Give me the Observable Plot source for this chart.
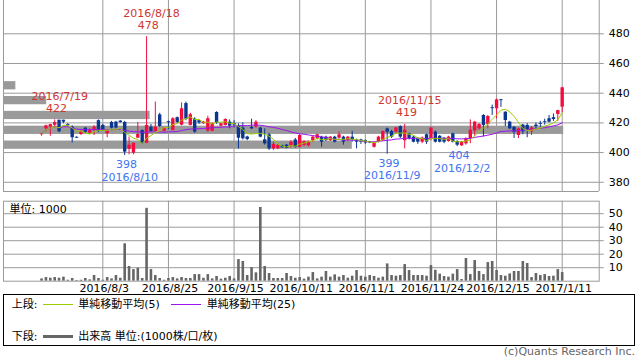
<!DOCTYPE html>
<html><head><meta charset="utf-8">
<script src="https://cdn.jsdelivr.net/npm/d3@7"></script>
<script src="https://cdn.jsdelivr.net/npm/@observablehq/plot@0.6"></script>
<style>
body{margin:0;background:#fff;}
#chart{position:relative;width:638px;height:362px;overflow:hidden;font-family:"DejaVu Sans","Noto Sans CJK JP",sans-serif;background:#fff;}
#chart svg{position:absolute;left:0;}
#legend{position:absolute;left:3px;top:294px;width:632px;height:52px;border:1px solid #000;box-sizing:border-box;font-size:11px;line-height:13px;color:#000;background:#fff;}
#legend span{position:absolute;white-space:nowrap;}
#legend i{position:absolute;display:block;}
#copy{position:absolute;right:3px;top:345.7px;font-size:11px;line-height:11px;color:#666;white-space:nowrap;}
</style></head><body><div id="chart"></div><script>
const dates = ["2016/7/13","2016/7/14","2016/7/15","2016/7/19","2016/7/20","2016/7/21","2016/7/22","2016/7/25","2016/7/26","2016/7/27","2016/7/28","2016/7/29",
"2016/8/1","2016/8/2","2016/8/3","2016/8/4","2016/8/5","2016/8/8","2016/8/9","2016/8/10","2016/8/12","2016/8/15","2016/8/16","2016/8/17","2016/8/18","2016/8/19","2016/8/22","2016/8/23","2016/8/24","2016/8/25","2016/8/26","2016/8/29","2016/8/30","2016/8/31",
"2016/9/1","2016/9/2","2016/9/5","2016/9/6","2016/9/7","2016/9/8","2016/9/9","2016/9/12","2016/9/13","2016/9/14","2016/9/15","2016/9/16","2016/9/20","2016/9/21","2016/9/23","2016/9/26","2016/9/27","2016/9/28","2016/9/29","2016/9/30",
"2016/10/3","2016/10/4","2016/10/5","2016/10/6","2016/10/7","2016/10/11","2016/10/12","2016/10/13","2016/10/14","2016/10/17","2016/10/18","2016/10/19","2016/10/20","2016/10/21","2016/10/24","2016/10/25","2016/10/26","2016/10/27","2016/10/28","2016/10/31",
"2016/11/1","2016/11/2","2016/11/4","2016/11/7","2016/11/8","2016/11/9","2016/11/10","2016/11/11","2016/11/14","2016/11/15","2016/11/16","2016/11/17","2016/11/18","2016/11/21","2016/11/22","2016/11/24","2016/11/25","2016/11/28","2016/11/29","2016/11/30",
"2016/12/1","2016/12/2","2016/12/5","2016/12/6","2016/12/7","2016/12/8","2016/12/9","2016/12/12","2016/12/13","2016/12/14","2016/12/15","2016/12/16","2016/12/19","2016/12/20","2016/12/21","2016/12/22","2016/12/26","2016/12/27","2016/12/28","2016/12/29","2016/12/30",
"2017/1/4","2017/1/5","2017/1/6","2017/1/10","2017/1/11"];

const open = [412.0,416.0,417.2,418.4,421.8,421.8,418.8,417.1,410.3,412.2,416.4,413.1,415.0,421.5,418.3,412.7,420.3,420.5,421.2,420.3,
402.2,399.6,409.7,414.9,406.3,417.1,414.2,425.4,414.4,420.8,415.0,423.5,418.5,433.0,418.3,422.5,421.5,419.5,414.5,414.4,
427.0,417.8,418.3,420.5,419.5,418.0,416.5,410.5,417.0,417.1,416.5,408.6,412.0,402.5,402.5,404.6,405.0,404.3,408.5,403.6,
404.8,404.5,408.1,409.3,410.4,410.4,408.1,410.4,409.7,410.4,408.1,410.4,408.1,408.5,408.1,407.2,403.6,407.0,408.1,416.0,
414.2,413.7,417.5,408.0,412.6,410.4,409.3,407.0,412.0,409.3,413.8,411.0,409.7,407.5,412.6,407.5,404.5,405.9,409.3,414.5,
416.0,425.0,419.0,430.2,429.5,435.6,427.2,420.5,417.0,411.5,418.5,418.3,414.0,418.5,419.5,420.8,422.8,423.5,425.7,430.6];
const high = [413.0,418.5,419.0,422.0,421.8,421.8,419.5,418.0,410.6,415.0,417.0,416.0,418.2,422.0,419.0,415.0,421.0,421.0,421.5,421.0,
410.5,406.5,420.3,415.2,478.0,419.0,434.0,426.5,416.8,421.2,423.5,424.0,433.5,434.0,426.5,423.5,422.0,421.0,424.5,420.0,
427.5,419.6,422.8,422.0,421.5,419.4,420.0,411.0,422.5,421.5,417.0,416.0,413.0,407.0,405.5,405.0,405.5,408.0,409.5,412.0,
408.0,407.8,411.0,412.5,411.0,411.0,410.8,411.0,414.0,411.0,410.8,414.3,409.0,409.0,408.5,407.5,407.0,411.0,414.5,416.5,
415.0,417.0,418.0,419.0,413.0,411.0,410.0,410.5,412.5,417.0,414.5,411.5,410.0,411.0,413.0,408.0,407.5,410.0,422.0,421.0,
419.5,425.5,425.0,432.0,436.0,435.8,427.5,421.0,417.5,416.5,419.0,419.5,417.5,420.0,421.0,422.5,425.0,426.0,428.5,444.0];
const low = [411.0,414.0,411.0,417.0,413.5,419.5,417.5,406.5,409.6,411.5,413.0,412.2,411.5,413.5,414.5,410.0,416.0,416.0,420.0,398.0,
398.5,398.5,409.5,405.5,406.0,413.5,413.8,417.0,414.0,415.5,414.5,419.5,418.0,421.5,418.0,413.0,419.0,419.0,413.7,414.0,
419.0,417.5,418.0,416.0,416.5,402.5,408.5,408.0,415.5,416.5,410.0,405.0,401.5,401.5,402.0,403.0,402.5,403.0,403.0,403.0,
404.0,403.8,407.0,408.5,403.6,407.5,407.5,406.5,409.0,405.0,407.5,407.0,402.5,405.5,405.5,406.0,403.0,406.5,407.5,399.0,
409.5,413.0,409.4,402.5,408.5,406.5,405.5,406.0,405.5,408.0,406.5,406.5,406.0,407.0,406.5,404.0,404.2,405.0,406.0,411.0,
415.0,410.5,416.0,425.0,422.8,430.5,417.5,415.5,409.5,409.5,412.0,410.0,411.5,416.0,417.0,418.5,420.0,421.0,421.0,427.0];
const close = [412.6,418.0,418.8,420.2,414.0,420.5,418.2,410.0,409.7,414.2,413.7,415.0,417.1,414.2,415.0,414.2,416.4,416.6,420.2,400.3,
405.0,406.3,412.2,406.3,418.3,414.2,417.1,417.6,416.4,420.1,422.8,420.3,429.5,422.3,425.5,413.8,420.0,420.5,422.8,419.6,
419.8,419.4,422.3,417.8,418.5,409.7,409.3,408.8,416.0,420.5,410.4,405.9,402.5,405.5,404.8,403.2,402.8,407.0,403.6,411.5,
407.3,407.0,410.4,412.0,407.0,408.1,410.4,407.0,412.0,407.0,410.4,408.3,407.0,407.0,406.5,406.5,406.4,410.4,414.2,413.7,
410.4,416.6,410.4,415.0,409.3,407.0,407.0,409.7,407.0,416.5,407.0,407.0,407.0,410.4,407.0,405.0,407.0,409.3,415.0,420.5,
418.9,418.3,424.3,429.6,435.5,435.0,421.6,416.0,413.7,416.0,414.0,415.0,416.6,417.5,419.0,420.3,420.5,422.3,428.3,443.6];
const volume = [1.7,2.7,2.2,2.7,2.2,3.0,0.7,2.0,0.5,0.7,2.0,1.0,4.2,2.0,0.7,2.7,1.7,4.2,2.2,27.7,
10.9,8.6,9.6,2.0,54.0,8.6,4.2,2.0,0.7,2.0,2.7,1.7,2.7,2.0,2.0,4.9,4.9,2.2,4.9,1.7,
3.5,1.5,2.2,3.5,1.7,16.0,14.6,4.2,10.1,6.2,54.6,10.9,5.7,2.0,2.0,2.0,5.7,3.5,2.2,2.7,
1.5,3.0,6.4,1.7,3.0,7.2,3.0,4.7,3.0,4.2,2.2,3.7,7.9,3.7,3.0,4.2,3.5,2.2,3.0,12.8,
4.2,3.7,4.2,12.3,7.9,4.2,4.2,4.2,3.7,11.6,8.1,5.2,3.5,3.0,5.2,8.6,1.2,16.8,4.9,15.3,
7.2,4.9,13.8,14.6,7.9,4.2,3.7,5.4,7.2,7.2,14.6,13.1,2.7,5.7,4.2,4.9,3.5,3.7,8.6,6.4];

const priceTicks = [380, 400, 420, 440, 460, 480];
const volumeTicks = [10, 20, 30, 40, 50];
const labelDates = ["2016/8/3","2016/8/25","2016/9/15","2016/10/11","2016/11/1","2016/11/24","2016/12/15","2017/1/11"];

// volume by price (price band start, volume)
const vbpBandStart = [400, 410, 420, 430, 440];
const vbpVolume = [226, 363, 95, 28, 8];

// high / low annotations
const annDates = ["2016/7/19","2016/8/18","2016/11/15","2016/8/10","2016/11/9","2016/12/2"];
const annValues = [422, 478, 419, 398, 399, 404];
const annKinds = ["high","high","high","low","low","low"];

const UP = "#f40c3f", DOWN = "#0a3690", GRID = "#9a9a9a";
const MA5C = "#9ccc00", MA25C = "#9a14f0";
const RED_T = "#d2352f", BLUE_T = "#4274f0";
const FONT = "DejaVu Sans, Noto Sans CJK JP, sans-serif";

function sma(arr, k) {
  return arr.map((_, i) => d3.mean(arr.slice(Math.max(0, i - k + 1), i + 1)));
}
const ma5 = sma(close, 5), ma25 = sma(close, 25);
const candles = dates.map((d, i) => ({i, date: d, open: open[i], high: high[i], low: low[i], close: close[i],
  up: close[i] >= open[i], ma5: ma5[i], ma25: ma25[i], vol: volume[i]}));
const gridIdx = labelDates.map(d => dates.indexOf(d));
const vbp = vbpBandStart.map((s, k) => ({lo: s, hi: s + 10, vol: vbpVolume[k]}));
const ann = annDates.map((d, k) => ({i: dates.indexOf(d), date: d, value: annValues[k], kind: annKinds[k]}));
const highs = ann.filter(a => a.kind === "high"), lows = ann.filter(a => a.kind === "low");

const xDomain = [-8.7, 127.46];
const yDomain = [373.8, 502.42];
const base = {width: 638, marginLeft: 3, marginRight: 39.3,
  style: {background: "transparent", fontFamily: FONT, overflow: "visible"}};
const col = d => d.up ? UP : DOWN;

const chart = document.getElementById("chart");
function place(svg, top) { svg.style.top = top + "px"; chart.appendChild(svg); }

// price grid
place(Plot.plot({...base, height: 191, marginTop: 0, marginBottom: 0,
  x: {domain: xDomain, axis: null}, y: {domain: yDomain, axis: null},
  marks: [
    Plot.ruleY(priceTicks, {y: d => d, stroke: GRID, insetRight: -5}),
    Plot.ruleX(gridIdx, {x: d => d, stroke: GRID})
  ]}), 0);

// volume-by-price bars
place(Plot.plot({...base, height: 191, marginTop: 0, marginBottom: 0,
  x: {domain: [0, 386], axis: null}, y: {domain: yDomain, axis: null},
  marks: [
    Plot.rectX(vbp, {y1: "lo", y2: "hi", x: "vol", fill: "#9a9a9a", insetTop: 3.3, insetBottom: 3.3})
  ]}), 0);

// candles, moving averages, labels
place(Plot.plot({...base, height: 191, marginTop: 0, marginBottom: 0,
  x: {domain: xDomain, axis: null}, y: {domain: yDomain, axis: null},
  marks: [
    Plot.ruleX(xDomain, {x: d => d, stroke: GRID}),
    Plot.ruleY([yDomain[0]], {y: d => d, stroke: GRID}),
    Plot.ruleX(candles, {x: "i", y1: "low", y2: "high", stroke: col, strokeWidth: 1}),
    Plot.ruleX(candles, {x: "i", y1: "open", y2: "close", stroke: col, strokeWidth: 3.4}),
    Plot.line(candles, {x: "i", y: "ma25", stroke: MA25C, strokeWidth: 1}),
    Plot.line(candles, {x: "i", y: "ma5", stroke: MA5C, strokeWidth: 1}),
    Plot.text(priceTicks, {y: d => d, text: d => String(d), frameAnchor: "right", dx: 9.6, textAnchor: "start", fontSize: 11, fill: "#000"}),
    Plot.text(highs, {x: "i", y: "value", text: d => String(d.value), dx: 1.7, dy: -8, lineAnchor: "bottom", fontSize: 11, fill: RED_T}),
    Plot.text(highs, {x: "i", y: "value", text: "date", dx: 5, dy: -20, lineAnchor: "bottom", fontSize: 11, fill: RED_T}),
    Plot.text(lows, {x: "i", y: "value", text: d => String(d.value), dx: 1.7, dy: 12.5, lineAnchor: "bottom", fontSize: 11, fill: BLUE_T}),
    Plot.text(lows, {x: "i", y: "value", text: "date", dx: 5, dy: 25, lineAnchor: "bottom", fontSize: 11, fill: BLUE_T})
  ]}), 0);

// volume panel
place(Plot.plot({...base, height: 100, marginTop: 5.7, marginBottom: 14.3,
  x: {domain: xDomain, axis: null}, y: {domain: [0, 59.26], axis: null},
  marks: [
    Plot.ruleY(volumeTicks, {y: d => d, stroke: GRID, insetRight: -5}),
    Plot.ruleX(gridIdx, {x: d => d, stroke: GRID}),
    Plot.ruleX(candles, {x: "i", y1: 0, y2: "vol", stroke: "#666", strokeWidth: 2.6}),
    Plot.frame({stroke: GRID}),
    Plot.text(["単位: 1000"], {frameAnchor: "top-left", dx: 6, dy: 11.6, lineAnchor: "bottom", textAnchor: "start", fontSize: 11, fill: "#000"}),
    Plot.text(volumeTicks, {y: d => d, text: d => String(d), frameAnchor: "right", dx: 9.6, textAnchor: "start", fontSize: 11, fill: "#000"}),
    Plot.text(gridIdx, {x: d => d, text: d => dates[d], frameAnchor: "bottom", dy: 11, dx: 1.5, lineAnchor: "bottom", fontSize: 11, fill: "#000"})
  ]}), 195);

// legend
const legend = document.createElement("div");
legend.id = "legend";
legend.innerHTML =
  '<span style="left:7.7px;top:2.8px">上段:</span>' +
  '<i style="left:38.7px;top:8.7px;width:30px;height:1px;background:' + MA5C + '"></i>' +
  '<span style="left:74.3px;top:2.8px">単純移動平均(5)</span>' +
  '<i style="left:167px;top:8.7px;width:30px;height:1px;background:' + MA25C + '"></i>' +
  '<span style="left:202.7px;top:2.8px">単純移動平均(25)</span>' +
  '<span style="left:7.7px;top:34.5px">下段:</span>' +
  '<i style="left:38.7px;top:40.2px;width:30px;height:3px;background:#666"></i>' +
  '<span style="left:74.3px;top:34.5px">出来高 単位:(1000株/口/枚)</span>';
chart.appendChild(legend);
const copy = document.createElement("div");
copy.id = "copy";
copy.textContent = "(c)Quants Research Inc.";
chart.appendChild(copy);
</script></body></html>
